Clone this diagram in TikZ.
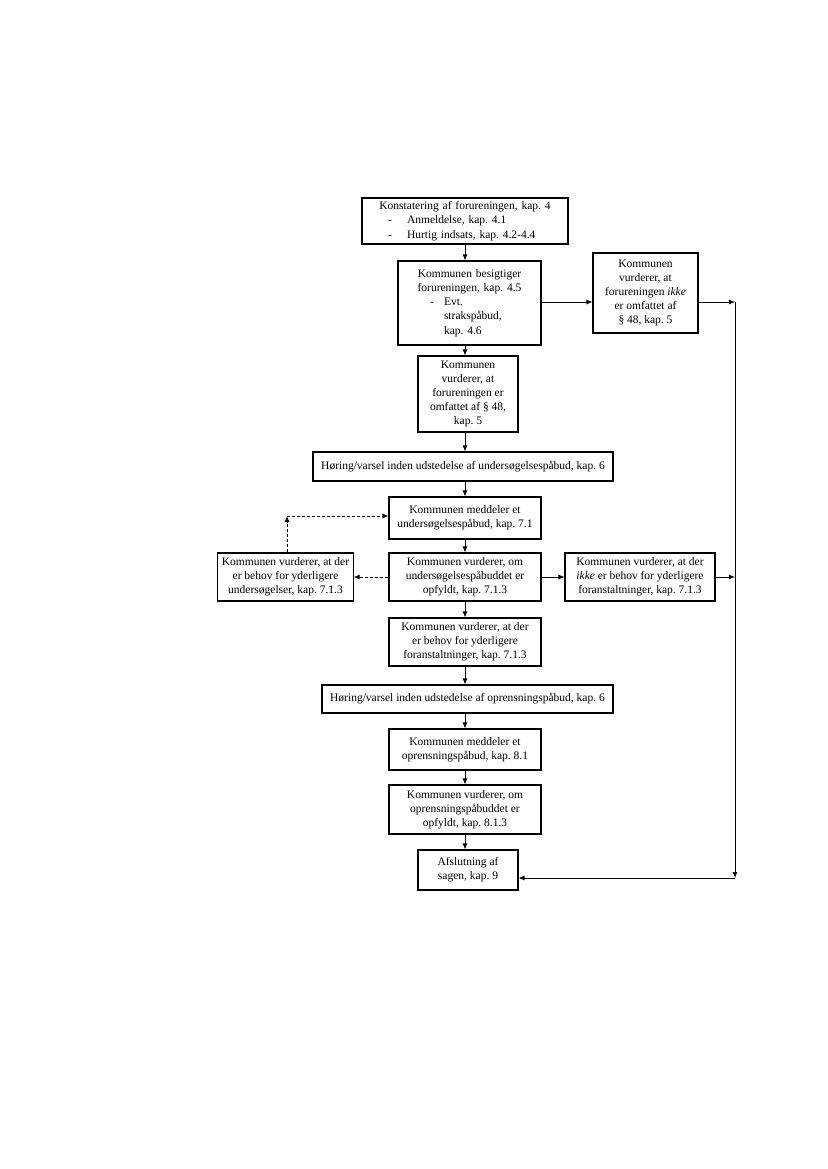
\documentclass[tikz,border=0pt]{standalone}
\usepackage{fontspec}
\setmainfont{Liberation Serif}
\usetikzlibrary{arrows.meta}
\frenchspacing
\begin{document}
\begin{tikzpicture}[x=1pt,y=-1pt,
  box/.style={draw, line width=1.1pt, inner xsep=4pt, inner ysep=0pt, align=center,
    font=\fontsize{11.5pt}{14.2pt}\selectfont},
  arr/.style={line width=0.8pt, -{Latex[length=6pt,width=5pt]}},
  darr/.style={arr, dashed, dash pattern=on 3pt off 2pt}]
\useasboundingbox (0,0) rectangle (827,1169);
\coordinate (col) at (465,0);
% boxes
\node[box, minimum width=206pt, minimum height=46pt, text width=198pt] (n1) at (465,221)
 {Konstatering af forureningen, kap. 4\\
  \makebox[\linewidth][l]{\hspace*{22pt}\makebox[19pt][l]{-}Anmeldelse, kap. 4.1}\\
  \makebox[\linewidth][l]{\hspace*{22pt}\makebox[19pt][l]{-}Hurtig indsats, kap. 4.2-4.4}};
\node[box, minimum width=143pt, minimum height=84pt, text width=135pt] (n2) at (469.5,303)
 {Kommunen besigtiger\\forureningen, kap. 4.5\\
  \makebox[\linewidth][l]{\hspace*{28pt}\makebox[14pt][l]{-}Evt.}\\
  \makebox[\linewidth][l]{\hspace*{42pt}strakspåbud,}\\
  \makebox[\linewidth][l]{\hspace*{42pt}kap. 4.6}};
\node[box, minimum width=105pt, minimum height=80pt] (nik) at (645.5,293)
 {Kommunen\\vurderer, at\\forureningen \textit{ikke}\\er omfattet af\\§ 48, kap. 5};
\node[box, minimum width=100pt, minimum height=76pt] (n3) at (468,394)
 {Kommunen\\vurderer, at\\forureningen er\\omfattet af § 48,\\kap. 5};
\node[box, minimum width=300pt, minimum height=29pt] (h1) at (463,466.5)
 {Høring/varsel inden udstedelse af undersøgelsespåbud, kap. 6};
\node[box, minimum width=152pt, minimum height=42pt] (m1) at (465,518)
 {Kommunen meddeler et\\undersøgelsespåbud, kap. 7.1};
\node[box, minimum width=129pt, minimum height=48pt] (L) at (285.5,577)
 {Kommunen vurderer, at der\\er behov for yderligere\\undersøgelser, kap. 7.1.3};
\node[box, minimum width=152pt, minimum height=48pt] (C) at (465,577)
 {Kommunen vurderer, om\\undersøgelsespåbuddet er\\opfyldt, kap. 7.1.3};
\node[box, minimum width=150pt, minimum height=48pt] (R) at (640,577)
 {Kommunen vurderer, at der\\\textit{ikke} er behov for yderligere\\foranstaltninger, kap. 7.1.3};
\node[box, minimum width=152pt, minimum height=48pt] (F) at (465,642)
 {Kommunen vurderer, at der\\er behov for yderligere\\foranstaltninger, kap. 7.1.3};
\node[box, minimum width=291pt, minimum height=28pt] (h2) at (467.5,699)
 {Høring/varsel inden udstedelse af oprensningspåbud, kap. 6};
\node[box, minimum width=152pt, minimum height=41pt] (m2) at (465,749.5)
 {Kommunen meddeler et\\oprensningspåbud, kap. 8.1};
\node[box, minimum width=152pt, minimum height=49pt] (v2) at (465,809.5)
 {Kommunen vurderer, om\\oprensningspåbuddet er\\opfyldt, kap. 8.1.3};
\node[box, minimum width=100pt, minimum height=40pt] (A) at (468,870)
 {Afslutning af\\sagen, kap. 9};
% rail
\coordinate (r1) at (735,302);
\coordinate (r2) at (735,878);
\coordinate (dc) at (287,516);
% main column
\draw[arr] (col |- n1.south) -- (col |- n2.north);
\draw[arr] (col |- n2.south) -- (col |- n3.north);
\draw[arr] (col |- n3.south) -- (col |- h1.north);
\draw[arr] (col |- h1.south) -- (col |- m1.north);
\draw[arr] (col |- m1.south) -- (col |- C.north);
\draw[arr] (col |- C.south) -- (col |- F.north);
\draw[arr] (col |- F.south) -- (col |- h2.north);
\draw[arr] (col |- h2.south) -- (col |- m2.north);
\draw[arr] (col |- m2.south) -- (col |- v2.north);
\draw[arr] (col |- v2.south) -- (col |- A.north);
% side branches
\draw[arr] (n2.east |- r1) -- (nik.west |- r1);
\draw[arr] (nik.east |- r1) -- (r1);
\draw[arr] (r1) -- (r2);
\draw[arr] (r2) -- (A.east |- r2);
\draw[arr] (C.east) -- (R.west);
\draw[arr] (R.east) -- (R.east -| r1);
\draw[darr] (C.west) -- (L.east);
\draw[darr] (L.north -| dc) -- (dc);
\draw[darr] (dc) -- (m1.west |- dc);
\end{tikzpicture}
\end{document}
